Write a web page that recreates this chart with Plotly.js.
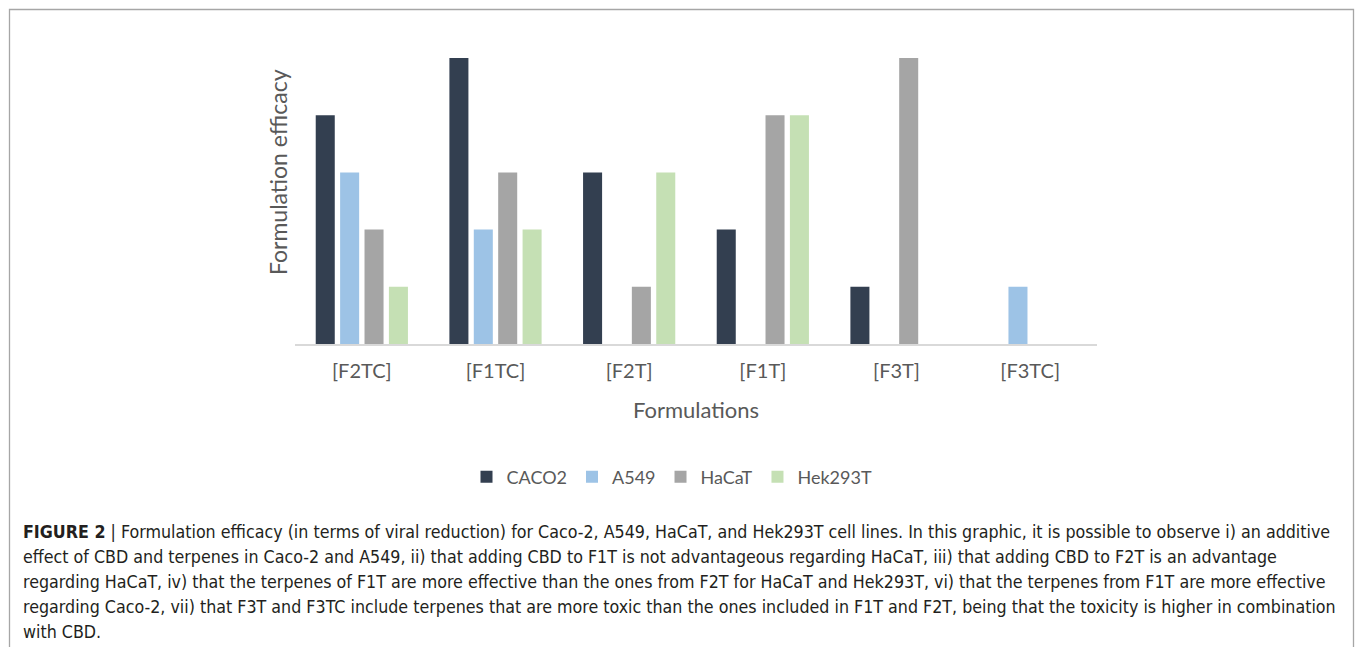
<!DOCTYPE html>
<html>
<head>
<meta charset="utf-8">
<script src="https://cdn.plot.ly/plotly-3.0.1.min.js"></script>
<style>
html,body{margin:0;padding:0;background:#fff;}
#chart{width:1355px;height:647px;}
</style>
</head>
<body>
<div id="chart"></div>
<script>
const categories = ['[F2TC]', '[F1TC]', '[F2T]', '[F1T]', '[F3T]', '[F3TC]'];
const seriesNames = ['CACO2', 'A549', 'HaCaT', 'Hek293T'];
const caco2 = [4, 5, 3, 2, 1, 0];
const a549 = [3, 2, 0, 0, 0, 1];
const hacat = [2, 3, 1, 4, 5, 0];
const hek293t = [1, 2, 3, 4, 0, 0];
const seriesColors = ['#333f50', '#9dc3e6', '#a5a5a5', '#c5e0b4'];
const captionLines = [
  '<b>FIGURE 2</b> | Formulation efficacy (in terms of viral reduction) for Caco-2, A549, HaCaT, and Hek293T cell lines. In this graphic, it is possible to observe i) an additive',
  'effect of CBD and terpenes in Caco-2 and A549, ii) that adding CBD to F1T is not advantageous regarding HaCaT, iii) that adding CBD to F2T is an advantage',
  'regarding HaCaT, iv) that the terpenes of F1T are more effective than the ones from F2T for HaCaT and Hek293T, vi) that the terpenes from F1T are more effective',
  'regarding Caco-2, vii) that F3T and F3TC include terpenes that are more toxic than the ones included in F1T and F2T, being that the toxicity is higher in combination',
  'with CBD.'
];

const allSeries = [caco2, a549, hacat, hek293t];
const traces = allSeries.map((vals, i) => ({
  type: 'bar',
  name: seriesNames[i],
  x: categories,
  y: vals,
  marker: {color: seriesColors[i], line: {width: 0}},
  hoverinfo: 'x+y+name'
}));

// pixel helpers for the fixed 1355x647 canvas
const L = 295, R = 1097, T = 58, B = 344;
const px = v => (v - L) / (R - L);
const py = v => (B - v) / (B - T);

const font = 'Lato, Calibri, "Open Sans", sans-serif';
const capFont = '"Liberation Sans Narrow", "DejaVu Sans Condensed", "Arial Narrow", sans-serif';

const annotations = [
  {xref: 'paper', yref: 'paper', x: px(278), y: py(172), text: 'Formulation efficacy',
   textangle: -90, showarrow: false, xanchor: 'center', yanchor: 'middle',
   font: {family: font, size: 23, color: '#595959'}}
];
const lineY = [532, 557, 582, 607, 632];
captionLines.forEach((t, i) => {
  annotations.push({xref: 'paper', yref: 'paper', x: px(21), y: py(lineY[i]), text: t,
    showarrow: false, xanchor: 'left', yanchor: 'middle', align: 'left',
    font: {family: capFont, size: 17.7, color: '#231f20'}});
});

const layout = {
  width: 1355, height: 647,
  margin: {l: L, r: 1355 - R, t: T, b: 647 - B, pad: 0},
  paper_bgcolor: '#ffffff', plot_bgcolor: '#ffffff',
  barmode: 'group', bargap: 0.27, bargroupgap: 0.22,
  showlegend: true,
  legend: {orientation: 'h', x: px(672), xanchor: 'center', y: py(477), yanchor: 'middle',
           font: {family: font, size: 18, color: '#595959'}, itemwidth: 30, traceorder: 'normal'},
  xaxis: {type: 'category', showline: true, linecolor: '#d9d9d9', linewidth: 2,
          ticks: '', showgrid: false, zeroline: false, fixedrange: true, ticklabelstandoff: 8,
          tickfont: {family: font, size: 20, color: '#595959'},
          title: {text: 'Formulations', font: {family: font, size: 22, color: '#595959'}, standoff: 22}},
  yaxis: {range: [0, 5], showline: false, showticklabels: false, ticks: '', showgrid: false,
          zeroline: false, fixedrange: true},
  annotations: annotations,
  shapes: [
    {type: 'rect', xref: 'paper', yref: 'paper', x0: px(9.5), x1: px(1353.5), y0: py(700), y1: py(9.5),
     line: {color: '#a6a6a6', width: 1.3}, fillcolor: 'rgba(0,0,0,0)', layer: 'below'}
  ]
};

Plotly.newPlot('chart', traces, layout, {displayModeBar: false, staticPlot: false});
</script>
</body>
</html>
